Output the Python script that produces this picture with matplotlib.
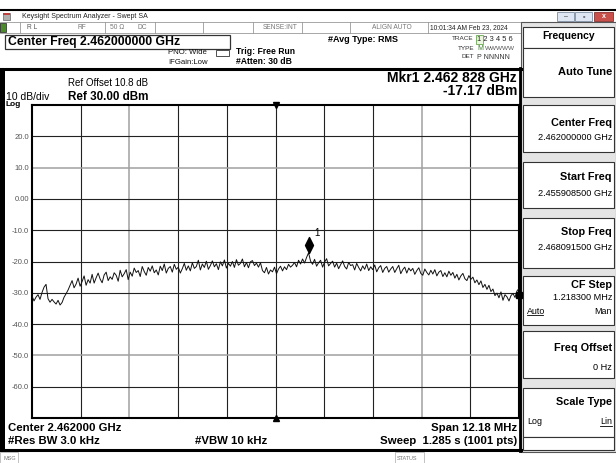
import numpy as np
import matplotlib
matplotlib.use("Agg")
import matplotlib.pyplot as plt
from matplotlib.patches import Rectangle

plt.rcParams["font.family"] = ["Liberation Sans", "DejaVu Sans"]

# --- sweep settings ---
START_GHZ = 2.4559085
STOP_GHZ = 2.4680915
REF_DBM = 30.0
DB_PER_DIV = 10.0
MKR_FREQ_GHZ = 2.462828
MKR_DBM = -17.17
EDGE_MARK_DBM = -30.6

Y_TICKS = [20, 10, 0, -10, -20, -30, -40, -50, -60]
Y_LABELS = ["20.0", "10.0", "0.00", "-10.0", "-20.0", "-30.0", "-40.0", "-50.0", "-60.0"]
Y_GRID_GRAY = [False, True, False, False, False, False, False, True, False]
X_GRID_GRAY = [False, True, False, False, False, False, False, True, False]

TRACE_DBM = [
    -31.0, -32.6, -31.4, -30.6, -32.1, -29.9, -28.2, -27.3, -31.9, -33.0,
    -32.1, -32.9, -33.6, -32.4, -33.9, -33.1, -31.4, -30.3, -29.1, -27.6,
    -26.1, -28.4, -27.2, -25.3, -27.9, -26.4, -24.6, -27.6, -25.8, -26.9,
    -24.1, -26.9, -25.2, -23.7, -25.6, -26.8, -24.3, -23.4, -26.1, -24.9,
    -25.7, -23.6, -24.4, -26.3, -22.8, -24.9, -23.9, -22.6, -25.8, -23.4,
    -24.7, -22.1, -23.5, -22.9, -24.8, -21.6, -23.2, -24.4, -21.9, -23.1,
    -21.4, -23.6, -22.7, -24.3, -21.5, -22.9, -20.8, -23.7, -22.2, -21.6,
    -23.4, -20.9, -22.5, -21.8, -23.7, -22.3, -20.6, -22.8, -21.4, -23.0,
    -20.4, -22.2, -21.6, -19.6, -22.7, -20.8, -21.9, -19.9, -22.5, -21.3,
    -19.8, -21.7, -20.7, -22.6, -20.1, -21.4, -19.5, -22.1, -20.6, -21.5,
    -20.0, -21.9, -19.4, -21.2, -20.6, -19.2, -21.7, -20.3, -22.0, -20.1,
    -19.7, -21.3, -20.5, -21.8, -20.4, -22.9, -23.6, -21.9, -24.0, -22.7,
    -23.3, -21.8, -23.9, -22.4, -21.5, -23.0, -21.7, -22.6, -20.9, -21.8,
    -21.2, -20.3, -21.7, -19.6, -20.8, -19.2, -20.5, -18.7, -17.2, -19.9,
    -20.9, -19.3, -21.5, -20.4, -19.6, -21.8, -20.2, -19.1, -21.4, -20.6,
    -19.9, -21.8, -20.5, -22.3, -21.0, -19.8, -21.6, -22.4, -20.3, -21.3,
    -21.0, -22.7, -20.6, -21.9, -23.0, -21.4, -22.5, -20.8, -22.9, -21.7,
    -22.6, -21.1, -23.3, -22.0, -21.3, -23.5, -22.2, -21.6, -23.4, -22.4,
    -21.6, -23.5, -22.3, -21.2, -23.9, -22.6, -21.8, -23.7, -22.1, -23.0,
    -22.2, -24.1, -22.9, -22.0, -23.8, -24.4, -22.4, -23.5, -24.3, -22.8,
    -24.0, -22.6, -24.6, -23.4, -22.9, -24.8, -23.6, -24.9, -23.1, -24.4,
    -23.5, -25.3, -24.1, -25.9, -24.6, -23.8, -25.5, -26.1, -24.5, -25.7,
    -25.0, -26.8, -25.9, -27.4, -26.2, -28.3, -27.3, -28.9, -27.6, -29.6,
    -28.8, -30.9, -30.1, -31.6, -29.7, -32.4, -30.6, -31.3, -32.6, -30.9,
    -30.2, -31.5, -29.4, -28.6,
]

W, H = 616, 463
fig = plt.figure(figsize=(W / 100, H / 100), dpi=100)

# screen layer in pixel coords
bg = fig.add_axes([0, 0, 1, 1])
bg.set_xlim(0, W)
bg.set_ylim(H, 0)
bg.axis("off")


def box(x0, y0, x1, y1, fc="white", ec="#333333", lw=0.8, z=1):
    bg.add_patch(Rectangle((x0, y0), x1 - x0, y1 - y0, fc=fc, ec=ec, lw=lw, zorder=z))


def txt(x, y, s, size=6, weight="normal", ha="left", color="black", **kw):
    bg.text(x, y, s, fontsize=size, fontweight=weight, ha=ha, va="center", color=color, **kw)


# title bar
bg.plot([0, W], [10, 10], color="black", lw=1.5)
box(3, 13, 10, 20, fc="#b0b0b0", ec="#666666", lw=0.5)
box(3, 13, 10, 15, fc="#c04040", ec="none", lw=0)
txt(22, 16.5, "Keysight Spectrum Analyzer - Swept SA", size=5, color="#222222")
box(557, 12, 574, 21, fc="#dde6f2", ec="#7a8aa0", lw=0.6)
box(575, 12, 592, 21, fc="#dde6f2", ec="#7a8aa0", lw=0.6)
box(594, 12, 613, 21, fc="#c9504a", ec="#8a3030", lw=0.6)
txt(565.5, 16.5, "–", size=5, ha="center", color="#333333")
txt(583.5, 16.5, "▫", size=5, ha="center", color="#333333")
txt(603.5, 16.5, "x", size=5, ha="center", color="white", weight="bold")

# status row
box(0, 22, 521, 33, fc="white", ec="#999999", lw=0.6)
for xd in [20, 105, 155, 203, 253, 302, 350, 428]:
    bg.plot([xd, xd], [22, 33], color="#999999", lw=0.6)
box(0, 23, 6, 32, fc="#4a8a2a", ec="#222222", lw=0.5)
txt(27, 27.5, "R L", size=4.8, color="#555555")
txt(77, 27.5, "RF", size=4.8, color="#777777")
txt(110, 27.5, "50 Ω", size=4.8, color="#777777")
txt(137, 27.5, "DC", size=4.8, color="#777777")
txt(263, 27.5, "SENSE:INT", size=4.8, color="#777777")
txt(372, 27.5, "ALIGN AUTO", size=4.8, color="#777777")
txt(430, 27.5, "10:01:34 AM Feb 23, 2024", size=4.8, color="#222222")

# settings header
box(5, 35, 230, 49, fc="white", ec="#333333", lw=0.9)
txt(8, 42, "Center Freq 2.462000000 GHz", size=8.8, weight="bold")
txt(168, 53, "PNO: Wide", size=5.6, color="#111111")
box(216, 50, 229, 56, fc="white", ec="#333333", lw=0.6)
txt(168, 62, "IFGain:Low", size=5.6, color="#111111")
txt(236, 51, "Trig: Free Run", size=6.2, weight="bold")
txt(236, 61, "#Atten: 30 dB", size=6.2, weight="bold")
txt(328, 40, "#Avg Type: RMS", size=6.5, weight="bold")
txt(474, 39, "TRACE", size=4.6, ha="right", color="#333333")
txt(474, 48, "TYPE", size=4.6, ha="right", color="#333333")
txt(474, 57, "DET", size=4.6, ha="right", color="#333333")
box(476, 35, 483, 44, fc="#eaf6e0", ec="#6aa84f", lw=0.6)
txt(477, 39.5, "1 2 3 4 5 6", size=5.4, color="#222222")
txt(477, 48.5, "M", size=5, color="#3a7a2a")
txt(485, 48.5, "WWWWW", size=4.6, color="#555555")
txt(477, 57.5, "P NNNNN", size=5, color="#333333")

# frame around graph region
bg.add_patch(Rectangle((0, 68), 5, 382, fc="black", ec="none", zorder=2))
bg.plot([0, 521], [69, 69], color="black", lw=2.2, zorder=2)
bg.plot([519.5, 519.5], [68, 451], color="black", lw=2.0, zorder=2)
bg.plot([0, 521], [450, 450], color="black", lw=2.2, zorder=2)

txt(68, 83, "Ref Offset 10.8 dB", size=7)
txt(6, 97, "10 dB/div", size=7.5)
txt(68, 97, "Ref 30.00 dBm", size=8.4, weight="bold")
txt(6, 104.5, "Log", size=6, weight="bold")
txt(517, 78, "Mkr1 2.462 828 GHz", size=10, weight="bold", ha="right")
txt(517, 91, "-17.17 dBm", size=10, weight="bold", ha="right")

# bottom annotations
txt(8, 428, "Center 2.462000 GHz", size=8.2, weight="bold")
txt(8, 441, "#Res BW 3.0 kHz", size=8.2, weight="bold")
txt(195, 441, "#VBW 10 kHz", size=8.2, weight="bold")
txt(517, 428, "Span 12.18 MHz", size=8.2, weight="bold", ha="right")
txt(517, 441, "Sweep  1.285 s (1001 pts)", size=8.2, weight="bold", ha="right")
box(0, 452, 18, 464, fc="white", ec="#aaaaaa", lw=0.5)
txt(3, 458, "MSG", size=4, color="#777777")
box(395, 452, 424, 464, fc="white", ec="#aaaaaa", lw=0.5)
txt(397, 458, "STATUS", size=4, color="#777777")

# softkey panel: (top, bottom, title, title y, value, value y)
box(521, 22, 616, 452, fc="#e4e4e4", ec="#555555", lw=0.8)
box(523, 27, 614, 48, fc="white", ec="#333333", lw=0.8)
txt(569, 36, "Frequency", size=7.5, weight="bold", ha="center")
box(523, 48, 614, 97, fc="white", ec="#333333", lw=0.8)
txt(612, 72, "Auto Tune", size=8, weight="bold", ha="right")
keys = [
    (105, 152, "Center Freq", 123, "2.462000000 GHz", 138),
    (162, 208, "Start Freq", 177, "2.455908500 GHz", 193),
    (218, 268, "Stop Freq", 232, "2.468091500 GHz", 248),
    (276, 325, "CF Step", 285, "1.218300 MHz", 298),
    (331, 378, "Freq Offset", 348, "0 Hz", 367),
    (388, 437, "Scale Type", 402, None, None),
]
for y0, y1, title, ty, val, vy in keys:
    box(523, y0, 614, y1, fc="white", ec="#333333", lw=0.8)
    txt(612, ty, title, size=7.8, weight="bold", ha="right")
    if val is not None:
        txt(612, vy, val, size=6.6, ha="right")
txt(527, 311, "Auto", size=6.4)
bg.plot([527, 543], [315, 315], color="black", lw=0.6)
txt(612, 311, "Man", size=6.4, ha="right")
txt(527, 422, "Log", size=6.4)
txt(612, 422, "Lin", size=6.4, ha="right")
bg.plot([600, 612], [426, 426], color="black", lw=0.6)
box(523, 437, 614, 450, fc="white", ec="#333333", lw=0.8)

# graticule
ax = fig.add_axes([32 / W, 1 - 418 / H, 487 / W, 313 / H])
ax.set_zorder(3)
top = REF_DBM
bottom = REF_DBM - 10 * DB_PER_DIV
ax.set_xlim(START_GHZ, STOP_GHZ)
ax.set_ylim(bottom, top)

span = STOP_GHZ - START_GHZ
x_grid = [START_GHZ + k * span / 10 for k in range(1, 10)]
for xv, gray in zip(x_grid, X_GRID_GRAY):
    ax.axvline(xv, color="#a0a0a0" if gray else "#222222", lw=1.1 if gray else 0.8, zorder=1)
for yv, gray in zip(Y_TICKS, Y_GRID_GRAY):
    ax.axhline(yv, color="#a0a0a0" if gray else "#222222", lw=1.1 if gray else 0.8, zorder=1)

ax.set_yticks(Y_TICKS)
ax.set_yticklabels(Y_LABELS)
ax.set_xticks([])
ax.tick_params(axis="y", length=0, pad=2, labelsize=5.5, labelcolor="#555555")
for s in ax.spines.values():
    s.set_linewidth(1.5)
    s.set_color("black")

freqs = np.linspace(START_GHZ, STOP_GHZ, len(TRACE_DBM))
ax.plot(freqs, TRACE_DBM, color="#111111", lw=0.7, zorder=3)

# marker 1
diamond = [(0, 0), (-0.5, 1), (0, 2), (0.5, 1), (0, 0)]
ax.plot([MKR_FREQ_GHZ], [MKR_DBM], marker=diamond, ms=23, color="black", zorder=4)
ax.annotate("1", (MKR_FREQ_GHZ, MKR_DBM), xytext=(4, 12), textcoords="offset points",
            fontsize=7, zorder=4)

# center-frequency ticks and trace level indicator
center = (START_GHZ + STOP_GHZ) / 2
ax.plot([center], [top], marker="v", ms=4.5, color="black", clip_on=False, zorder=5)
ax.plot([center], [bottom], marker="^", ms=4.5, color="black", clip_on=False, zorder=5)
ax.plot([STOP_GHZ], [EDGE_MARK_DBM], marker="s", ms=4.5, color="black", clip_on=False, zorder=5)

fig.savefig("out.png", dpi=100)
